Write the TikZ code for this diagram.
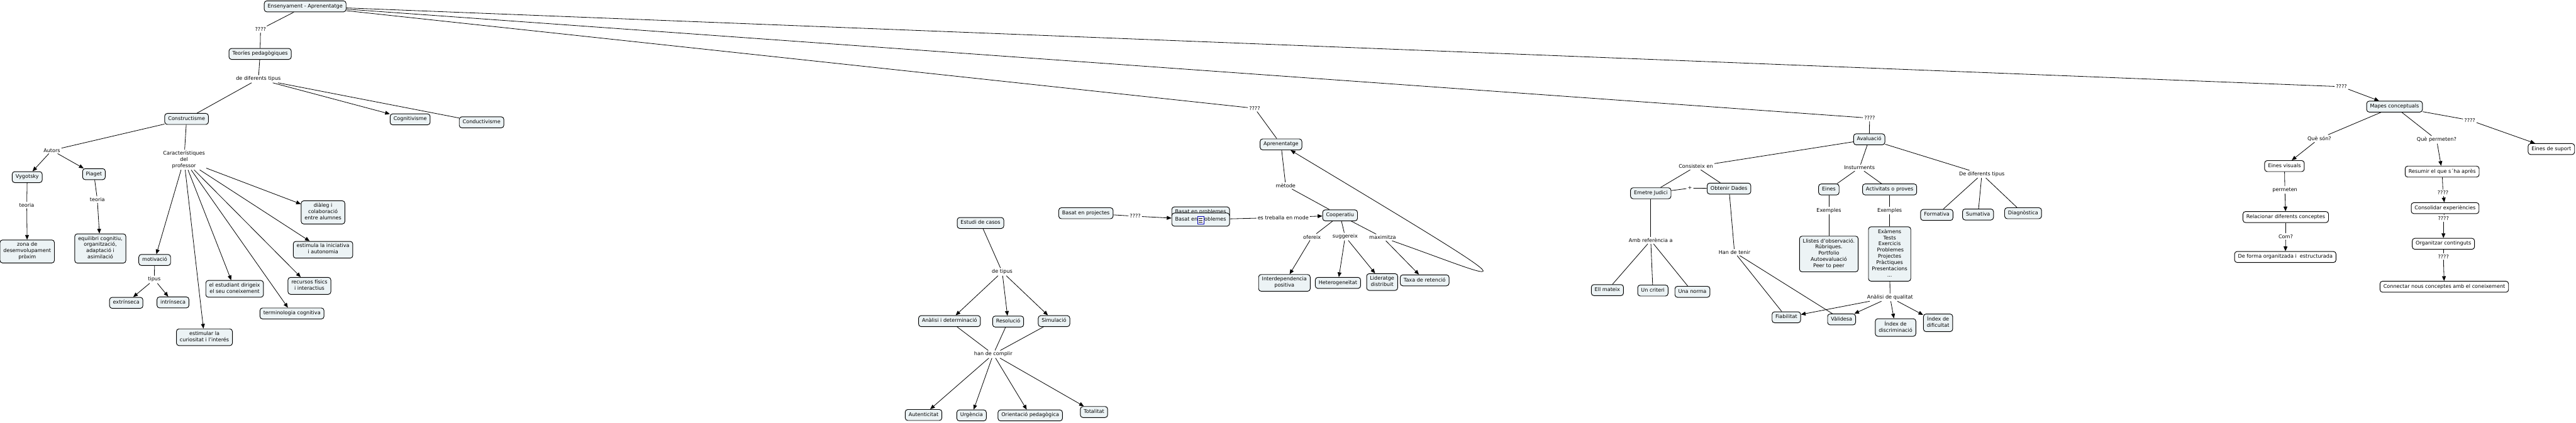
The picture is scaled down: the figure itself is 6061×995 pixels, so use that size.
\documentclass[tikz,border=0pt]{standalone}
\usepackage{fontspec}
\setmainfont{DejaVu Sans}
\usetikzlibrary{arrows.meta}
\definecolor{cfill}{RGB}{236,243,245}
\begin{document}
\begin{tikzpicture}[x=1pt,y=-1pt,
  cbox/.style={draw, line width=1.4pt, rounded corners=6pt, fill=cfill, inner xsep=8pt, inner ysep=5.6pt,
    align=center, font=\fontsize{12}{14.7}\selectfont, execute at begin node=\strut, execute at end node=\strut},
  wbox/.style={cbox, fill=white},
  lbl/.style={inner sep=3pt, align=center, font=\fontsize{12}{14.7}\selectfont},
  ln/.style={line width=1.2pt},
  arr/.style={ln, -{Triangle[length=11pt,width=9pt]}}]
\fill[white] (0,0) rectangle (6061,995);
\useasboundingbox (0,0) rectangle (6061,995);

% ---------- left part ----------
\node[cbox] (ens) at (718,15) {Ensenyament - Aprenentatge};
\node[lbl] (lq1) at (613,69) {????};
\node[cbox] (teo) at (612,127) {Teoríes pedagògiques};
\node[lbl] (lddt) at (608,186) {de diferents tipus};
\node[cbox] (cons) at (439,280) {Constructisme};
\node[cbox] (cogn) at (965,281) {Cognitivisme};
\node[cbox] (cond) at (1133,288) {Conductivisme};
\node[lbl] (laut) at (122,354) {Autors};
\node[lbl] (lcar) at (433,376) {Característiques\\del\\professor};
\node[cbox] (vyg) at (64,417) {Vygotsky};
\node[cbox] (pia) at (221,410) {Piaget};
\node[lbl] (ltv) at (63,483) {teoria};
\node[lbl] (ltp) at (229,470) {teoria};
\node[cbox] (zona) at (64,592) {zona de\\desemvolupament\\pròxim};
\node[cbox] (equi) at (236,585) {equilibri cognitiu,\\organització,\\adaptació i\\asimilació};
\node[cbox] (moti) at (364,612) {motivació};
\node[lbl] (ltip) at (363,658) {tipus};
\node[cbox] (extr) at (297,713) {extrínseca};
\node[cbox] (intr) at (407,712) {intrínseca};
\node[cbox] (estu) at (552,680) {el estudiant dirigeix\\el seu coneixement};
\node[cbox] (recu) at (728,673) {recursos físics\\i interactius};
\node[cbox] (term) at (687,738) {terminologia cognitiva};
\node[cbox] (esti) at (481,794) {estimular la\\curiositat i l'interés};
\node[cbox] (dial) at (760,500) {diàleg i\\colaboració\\entre alumnes};
\node[cbox] (inic) at (760,588) {estimula la iniciativa\\i autonomia};

\draw[ln] (ens) -- (lq1);
\draw[ln] (lq1) -- (teo);
\draw[ln] (teo) -- (lddt);
\draw[ln] (lddt) -- (cons);
\draw[arr] (lddt) -- (cogn);
\draw[ln] (lddt) -- (cond);
\draw[ln] (cons) -- (laut);
\draw[arr] (laut) -- (vyg);
\draw[arr] (laut) -- (pia);
\draw[ln] (cons) -- (lcar);
\draw[ln] (vyg) -- (ltv);
\draw[arr] (ltv) -- (zona);
\draw[ln] (pia) -- (ltp);
\draw[arr] (ltp) -- (equi);
\foreach \t in {moti,esti,estu,term,recu,inic,dial} \draw[arr] (lcar) -- (\t);
\draw[ln] (moti) -- (ltip);
\draw[arr] (ltip) -- (extr);
\draw[arr] (ltip) -- (intr);

% ---------- middle part ----------
\node[lbl] (lqapr) at (2952,255) {????};
\node[cbox] (apr) at (3014,340) {Aprenentatge};
\node[lbl] (lmet) at (3025,437) {mètode};
\node[cbox] (estc) at (2307,525) {Estudi de casos};
\node[cbox] (proj) at (2555,502) {Basat en projectes};
\node[lbl] (lqpp) at (2671,509) {????};
\node[cbox] (probb) at (2825,500) {Basat en problemes};
\node[cbox, minimum height=31pt] (prob) at (2825,517) {Basat en problemes};
\draw[blue!70!black, fill=white, line width=0.8pt] (2818,510) rectangle (2832,527);
\draw[line width=0.7pt] (2821,514) -- (2829,514) (2821,518) -- (2829,518) (2821,522) -- (2829,522);
\node[lbl] (letm) at (3019,512) {es treballa en mode};
\node[cbox] (coop) at (3153,507) {Cooperatiu};
\node[lbl] (lofe) at (3087,558) {ofereix};
\node[lbl] (lsug) at (3165,557) {suggereix};
\node[lbl] (lmax) at (3253,559) {maximitza};
\node[cbox] (inte) at (3022,666) {Interdependencia\\positiva};
\node[cbox] (hete) at (3148,666) {Heterogeneïtat};
\node[cbox] (lide) at (3252,664) {Lideratge\\distribuit};
\node[cbox] (taxa) at (3352,660) {Taxa de retenció};
\node[lbl] (ldti) at (2358,640) {de tipus};
\node[cbox] (anal) at (2234,756) {Anàlisi i determinació};
\node[cbox] (reso) at (2372,757) {Resolució};
\node[cbox] (simu) at (2480,756) {Simulació};
\node[lbl] (lhdc) at (2337,834) {han de complir};
\node[cbox] (aute) at (2173,977) {Autenticitat};
\node[cbox] (urge) at (2286,978) {Urgència};
\node[cbox] (orie) at (2424,978) {Orientació pedagògica};
\node[cbox] (tota) at (2574,970) {Totalitat};

\draw[ln] (ens) -- (lqapr);
\draw[ln] (lqapr) -- (apr);
\draw[ln] (apr) -- (lmet);
\draw[ln] (lmet) -- (coop);
\draw[ln] (proj) -- (lqpp);
\draw[arr] (lqpp) -- (prob);
\draw[ln] (prob) -- (letm);
\draw[arr] (letm) -- (coop);
\draw[ln] (coop) -- (lofe);
\draw[arr] (lofe) -- (inte);
\draw[ln] (coop) -- (lsug);
\draw[arr] (lsug) -- (hete);
\draw[arr] (lsug) -- (lide);
\draw[ln] (coop) -- (lmax);
\draw[arr] (lmax) -- (taxa);
\draw[arr] (lmax) .. controls (3540,660) and (3655,725) .. (apr);
\draw[ln] (estc) -- (ldti);
\foreach \t in {anal,reso,simu} {\draw[arr] (ldti) -- (\t); \draw[ln] (\t) -- (lhdc);}
\foreach \t in {aute,urge,orie,tota} \draw[arr] (lhdc) -- (\t);

% ---------- Avaluacio ----------
\node[lbl] (lqav) at (4399,278) {????};
\node[cbox] (aval) at (4398,328) {Avaluació};
\node[lbl] (lcon) at (3990,392) {Consisteix en};
\node[cbox] (emet) at (3884,455) {Emetre Judici};
\node[cbox] (obte) at (4068,444) {Obtenir Dades};
\node[lbl] (lplus) at (3976,443) {+};
\node[lbl] (lamb) at (3884,566) {Amb referència a};
\node[cbox] (ellm) at (3782,683) {Ell mateix};
\node[cbox] (uncr) at (3889,684) {Un criteri};
\node[cbox] (unan) at (3982,687) {Una norma};
\node[lbl] (lhdt) at (4081,594) {Han de tenir};
\node[cbox] (fiab) at (4203,747) {Fiabilitat};
\node[cbox] (vali) at (4333,752) {Vàlidesa};
\node[lbl] (lins) at (4375,395) {Insturments};
\node[cbox] (eine) at (4303,446) {Eines};
\node[cbox] (acti) at (4446,446) {Activitats o proves};
\node[lbl] (lex1) at (4303,496) {Exemples};
\node[lbl] (lex2) at (4446,496) {Exemples};
\node[cbox] (llis) at (4303,598) {Llistes d'observació.\\Rúbriques.\\Portfolio\\Autoevaluació\\Peer to peer};
\node[cbox] (exam) at (4446,598) {Exàmens\\Tests\\Exercicis\\~Problemes\\Projectes\\Pràctiques\\Presentacions\\...};
\node[lbl] (lanq) at (4447,700) {Anàlisi de qualitat};
\node[cbox] (idis) at (4460,771) {Índex de\\discriminació};
\node[cbox] (idif) at (4560,760) {Índex de\\dificultat};
\node[lbl] (lddt2) at (4663,410) {De diferents tipus};
\node[cbox] (form) at (4557,506) {Formativa};
\node[cbox] (suma) at (4654,505) {Sumativa};
\node[cbox] (diag) at (4760,502) {Diagnòstica};

\draw[ln] (ens) -- (lqav);
\draw[ln] (lqav) -- (aval);
\draw[ln] (aval) -- (lcon);
\draw[ln] (lcon) -- (emet);
\draw[ln] (lcon) -- (obte);
\draw[ln] (emet) -- (lplus);
\draw[ln] (lplus) -- (obte);
\draw[ln] (emet) -- (lamb);
\foreach \t in {ellm,uncr,unan} \draw[ln] (lamb) -- (\t);
\draw[ln] (obte) -- (lhdt);
\draw[ln] (lhdt) -- (fiab);
\draw[ln] (lhdt) -- (vali);
\draw[ln] (aval) -- (lins);
\draw[ln] (lins) -- (eine);
\draw[ln] (lins) -- (acti);
\draw[ln] (eine) -- (lex1);
\draw[ln] (lex1) -- (llis);
\draw[ln] (acti) -- (lex2);
\draw[ln] (lex2) -- (exam);
\draw[ln] (exam) -- (lanq);
\foreach \t in {fiab,vali,idis,idif} \draw[arr] (lanq) -- (\t);
\draw[ln] (aval) -- (lddt2);
\foreach \t in {form,suma,diag} \draw[ln] (lddt2) -- (\t);

% ---------- Mapes conceptuals ----------
\node[lbl] (lqmp) at (5509,204) {????};
\node[cbox] (mape) at (5634,251) {Mapes conceptuals};
\node[lbl] (lqso) at (5457,326) {Què són?};
\node[lbl] (lqpe) at (5733,329) {Què permeten?};
\node[lbl] (lqes) at (5811,283) {????};
\node[wbox] (esup) at (6003,351) {Eines de suport};
\node[wbox] (evis) at (5375,391) {Eines visuals};
\node[lbl] (lperm) at (5376,447) {permeten};
\node[wbox] (rela) at (5378,511) {Relacionar diferents conceptes};
\node[lbl] (lcom) at (5378,557) {Com?};
\node[wbox] (dfor) at (5377,605) {De forma organitzada i~ estructurada};
\node[wbox] (resu) at (5746,404) {Resumir el que s´ha après};
\node[lbl] (lq2) at (5748,454) {????};
\node[wbox] (cons2) at (5753,490) {Consolidar experiències};
\node[lbl] (lq3) at (5749,514) {????};
\node[wbox] (orga) at (5749,574) {Organitzar continguts};
\node[lbl] (lq4) at (5749,604) {????};
\node[wbox] (conn) at (5751,675) {Connectar nous conceptes amb el coneixement};

\draw[ln] (ens) -- (lqmp);
\draw[arr] (lqmp) -- (mape);
\draw[ln] (mape) -- (lqso);
\draw[arr] (lqso) -- (evis);
\draw[ln] (mape) -- (lqpe);
\draw[arr] (lqpe) -- (resu);
\draw[ln] (mape) -- (lqes);
\draw[arr] (lqes) -- (esup);
\draw[ln] (evis) -- (lperm);
\draw[arr] (lperm) -- (rela);
\draw[ln] (rela) -- (lcom);
\draw[arr] (lcom) -- (dfor);
\draw[ln] (resu) -- (lq2);
\draw[arr] (lq2) -- (cons2);
\draw[ln] (cons2) -- (lq3);
\draw[arr] (lq3) -- (orga);
\draw[ln] (orga) -- (lq4);
\draw[arr] (lq4) -- (conn);
\end{tikzpicture}
\end{document}
